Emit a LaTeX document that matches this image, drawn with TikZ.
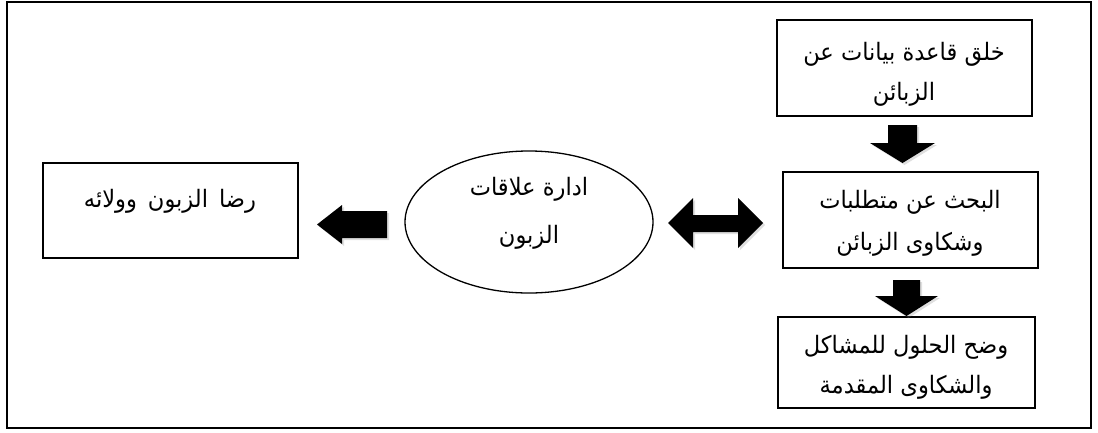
\documentclass[tikz,border=0pt]{standalone}
\usepackage{fontspec}
\newfontfamily\arabicfont[Script=Arabic,FakeStretch=0.94]{DejaVu Sans}
\TeXXeTstate=1
\usetikzlibrary{shadows,shapes.geometric}
\begin{document}
\begin{tikzpicture}[x=1pt,y=-1pt,
  box/.style={draw,line width=1.3pt,fill=white,align=center,inner sep=0pt},
  txt/.style={font=\arabicfont\fontsize{24}{40}\selectfont,align=center,inner sep=0pt},
  blk/.style={fill=black,drop shadow={shadow xshift=2pt,shadow yshift=-2pt,opacity=0.25}}]
\useasboundingbox (0,0) rectangle (1098,432);
\draw[line width=1.3pt] (7,2) rectangle (1091,428);
% boxes
\node[box,minimum width=255pt,minimum height=96pt] (b1) at (904.5,68) {};
\node[box,minimum width=255pt,minimum height=96pt] (b2) at (910.5,220) {};
\node[box,minimum width=257pt,minimum height=91pt] (b3) at (906.5,362.5) {};
\node[box,minimum width=255pt,minimum height=95pt] (b4) at (170.5,210.5) {};
\node[draw,line width=1.3pt,ellipse,minimum width=248pt,minimum height=142pt,inner sep=0pt] (e) at (529,222) {};
% texts
\node[txt] (t1) at (904,74) {\beginR خلق قاعدة بيانات عن\endR\\\beginR الزبائن\endR};
\node[txt,font=\arabicfont\fontsize{24}{42}\selectfont] (t2) at (910,223) {\beginR البحث عن متطلبات\endR\\\beginR وشكاوى الزبائن\endR};
\node[txt] (t3) at (906,367) {\beginR وضح الحلول للمشاكل\endR\\\beginR والشكاوى المقدمة\endR};
\node[txt,anchor=base] (t4) at (170,207) {\spaceskip=11pt\beginR رضا الزبون وولائه\endR};
\node[txt,font=\arabicfont\fontsize{24}{48}\selectfont] (t5) at (529,213) {\beginR ادارة علاقات\endR\\\beginR الزبون\endR};
% block arrows
\fill[blk] (888,125) -- (917,125) -- (917,143) -- (935,143) -- (902.5,163) -- (870,143) -- (888,143) -- cycle;
\fill[blk] (893,280) -- (920,280) -- (920,296) -- (938,296) -- (906.5,316) -- (875,296) -- (893,296) -- cycle;
\fill[blk] (387,211) -- (387,238) -- (342,238) -- (342,244) -- (317,224.5) -- (342,205) -- (342,211) -- cycle;
\fill[blk] (668,223) -- (693,198) -- (693,215) -- (738,215) -- (738,198) -- (763,223) -- (738,248) -- (738,232) -- (693,232) -- (693,248) -- cycle;
\end{tikzpicture}
\end{document}
